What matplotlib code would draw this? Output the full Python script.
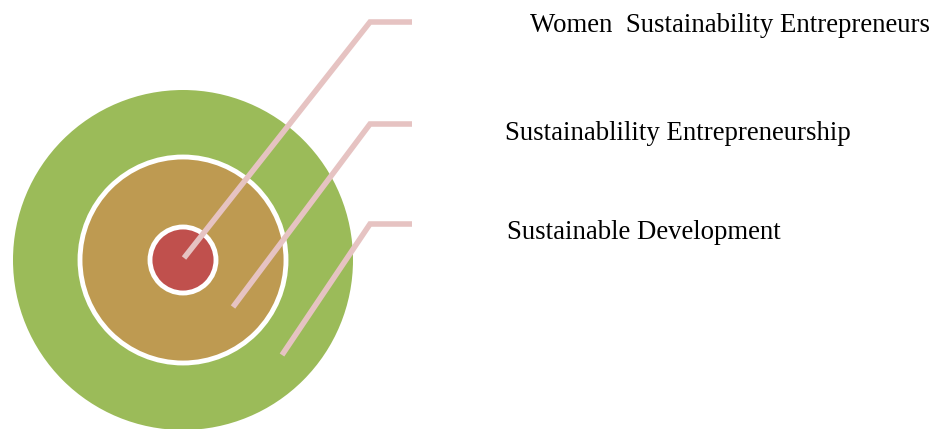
import matplotlib.pyplot as plt
from matplotlib.patches import Circle

plt.rcParams['font.family'] = ['Liberation Serif', 'DejaVu Serif']

# rings, outer to inner
labels = ['Sustainable Development', 'Sustainablility Entrepreneurship',
          'Women  Sustainability Entrepreneurs']
radii = [170, 103, 33]
colors = ['#9BBB59', '#BE9A51', '#C0504D']

# callout lines: (end point in circle, elbow) in pixel coords
leader_start = [(282, 355), (233, 307), (184, 258)]
leader_elbow = [(370, 224), (370, 124), (370, 22)]
label_x = [507, 505, 530]
label_y = [239, 140, 32]

cx, cy = 183, 260
line_col = '#E6C3C2'

fig = plt.figure(figsize=(9.31, 4.29), dpi=100)
ax = fig.add_axes([0, 0, 1, 1])
ax.set_xlim(0, 931)
ax.set_ylim(429, 0)
ax.set_aspect('equal')
ax.axis('off')

for i, (r, c) in enumerate(zip(radii, colors)):
    ec = 'none' if i == 0 else 'white'
    ax.add_patch(Circle((cx, cy), r, facecolor=c, edgecolor=ec, linewidth=3.5, zorder=i + 1))

for (x0, y0), (x1, y1), lab, tx, ty in zip(leader_start, leader_elbow, labels, label_x, label_y):
    ax.plot([x0, x1, 412], [y0, y1, y1], color=line_col, lw=4, solid_joinstyle='miter',
            solid_capstyle='butt', zorder=10)
    ax.text(tx, ty, lab, fontsize=19.3, va='baseline', ha='left', color='black')

fig.savefig('out.png', dpi=100)
